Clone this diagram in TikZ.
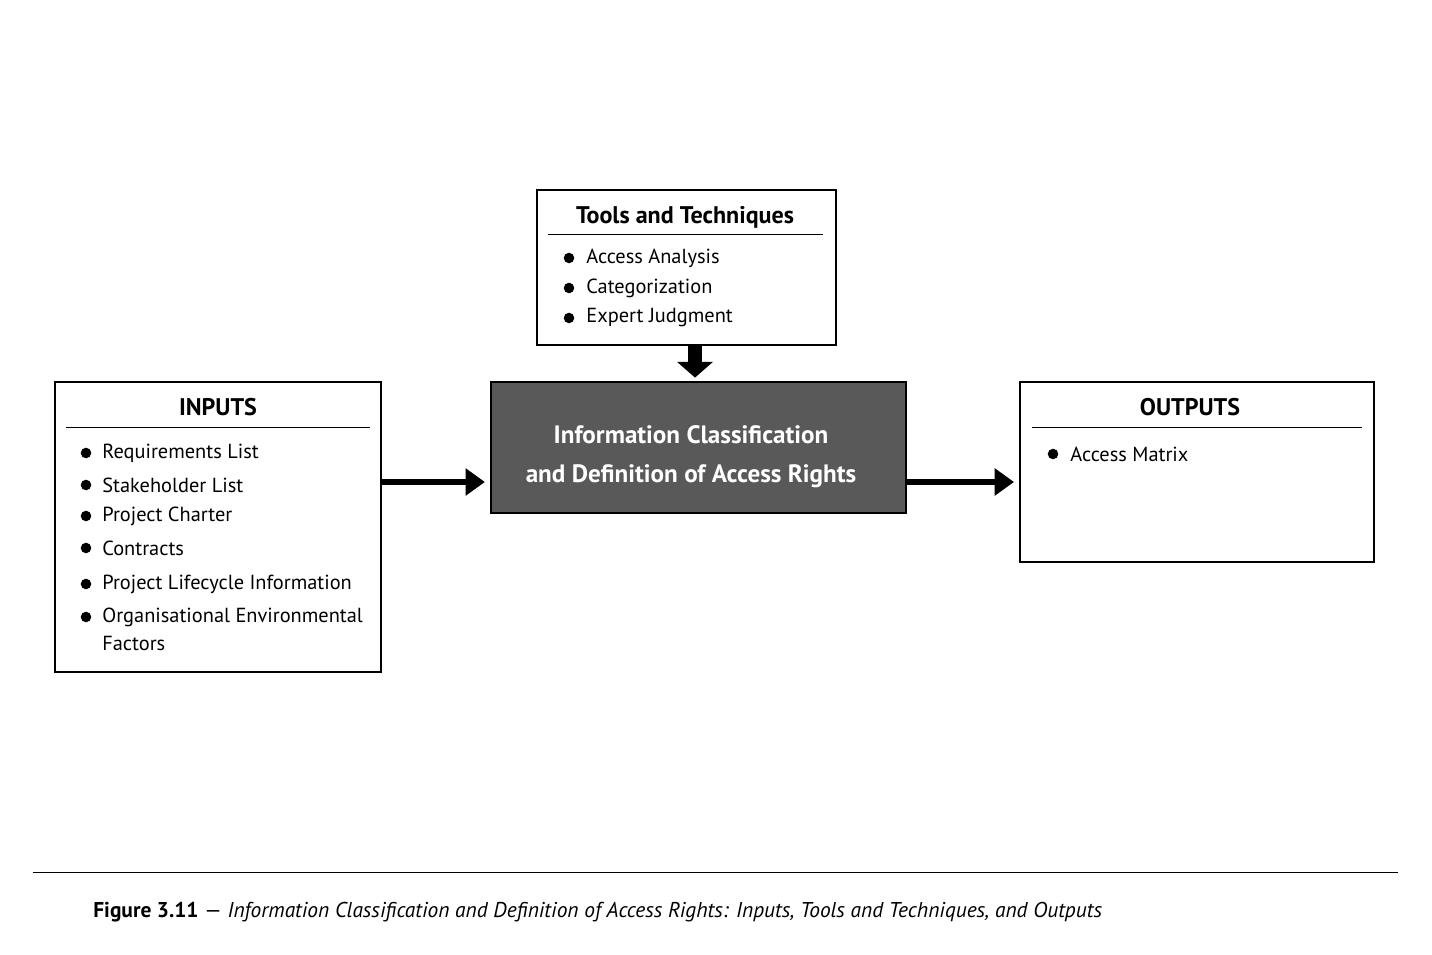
\documentclass[tikz,border=0pt]{standalone}
\usepackage{fontspec}
\setmainfont{PT Sans}
\usetikzlibrary{arrows.meta}
\tikzset{
  box/.style = {draw, line width=1pt, inner sep=0pt},
  title/.style = {font=\fontsize{13.7}{18}\selectfont\bfseries},
  item/.style = {anchor=west, font=\fontsize{11.6}{17}\selectfont, inner sep=0pt},
  bul/.style = {circle, fill, minimum size=6pt, inner sep=0pt},
  flow/.style = {line width=3.5pt, -{Triangle[length=11pt,width=15pt]}},
  drop/.style = {line width=8pt, -{Triangle[length=9pt,width=20pt]}}
}
\begin{document}
\begin{tikzpicture}[x=0.02cm, y=-0.02cm]
	\useasboundingbox (0,0) rectangle (1432,955);
	
	% Tools
	\draw[line width=1pt] (537,190) rectangle (836,345);
	\node[title] (tt) at (685,217) {Tools and Techniques};
	\draw (548,234) -- (823,234);
	\foreach \y/\t in {258/Access Analysis, 288/Categorization, 318/Expert Judgment}{
		\node[bul] at (569,\y) {};
		\node[item] at (586,\y) {\t};
	}
	
	% Centre
	\node[draw, line width=1pt, fill=black!65, minimum width=8.3cm, minimum height=2.62cm]
	      (proc) at (698.5,447.5) {};
	\node[text=white, font=\fontsize{14.3}{22}\selectfont\bfseries, align=center]
	      (ptext) at (691,457) {Information Classification\\and Definition of Access Rights};
	\coordinate (top) at (695,345);
	\draw[drop] (top) -- ([yshift=2pt]proc.north -| top);
	
	% Inputs
	\draw[line width=1pt] (55,382) rectangle (381,672);
	\node[title] (in) at (218,407) {INPUTS};
	\draw (66,427) -- (370,427);
	\foreach \y/\t in {453/Requirements List, 485/Stakeholder List, 516/Project Charter,
	                   548/Contracts, 584/Project Lifecycle Information, 617/Organisational Environmental}{
		\node[bul] at (86,\y) {};
		\node[item] at (102,\y) {\t};
	}
	\node[item] at (102,643) {Factors};
	\coordinate (inr) at (381,482);
	\draw[flow] (inr) -- ([xshift=-3pt]proc.west |- inr);
	
	% Outputs
	\draw[line width=1pt] (1020,382) rectangle (1374,562);
	\node[title] (out) at (1190,407) {OUTPUTS};
	\draw (1032,427) -- (1362,427);
	\node[bul] at (1053,454) {};
	\node[item] at (1070,454) {Access Matrix};
	\coordinate (outl) at (1014,482);
	\draw[flow] (proc.east |- outl) -- (outl);
	
	% Caption
	\draw (33,872) -- (1398,872);
	\node[item, font=\fontsize{12.2}{17}\selectfont] at (93,912)
	  {\textbf{Figure 3.11} --- \textit{Information Classification and Definition of Access Rights: Inputs, Tools and Techniques, and Outputs}};
\end{tikzpicture}
\end{document}
